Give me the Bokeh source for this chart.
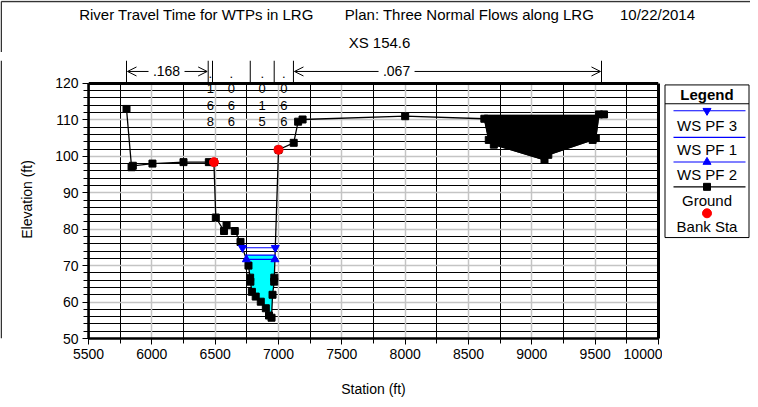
import numpy as np
from bokeh.plotting import figure
from bokeh.layouts import column, row
from bokeh.models import FixedTicker, Grid, Arrow, OpenHead, Range1d, LinearAxis
from bokeh.core.properties import value
from bokeh.embed import file_html
from bokeh.resources import INLINE

# ---------------- data ----------------
title_left = "River Travel Time for WTPs in LRG"
title_mid = "Plan: Three Normal Flows along LRG"
title_date = "10/22/2014"
subtitle = "XS 154.6"

ground_sta = [5800, 5840, 5850, 6005, 6250, 6450, 6490, 6505, 6570, 6590, 6655, 6700,
              6763, 6776, 6778, 6790, 6820, 6860, 6900, 6925, 6945, 6953, 6966, 6967,
              7000, 7120, 7155, 7190, 8000, 8625, 8660, 8700, 9100, 9130, 9480, 9505, 9530, 9570]
ground_elev = [113.0, 97.0, 97.4, 98.0, 98.4, 98.4, 98.4, 83.2, 79.5, 81.1, 79.5, 76.5,
               70.0, 66.7, 65.6, 62.8, 61.5, 60.1, 58.3, 56.3, 55.7, 62.0, 65.6, 66.7,
               101.8, 103.7, 109.5, 110.1, 111.0, 110.3, 104.5, 103.2, 99.0, 100.4, 104.5, 105.0, 111.5, 111.5]

bank_sta = [6490, 7000]
bank_elev = [98.4, 101.8]

ws_names = ["WS PF 3", "WS PF 1", "WS PF 2"]
ws_elev = [74.9, 72.9, 71.7]

block_sta = [8625, 9522]
block_elev = 111.3

n_breaks = [5800, 6445, 6479, 6777, 6966, 7118, 9550]
n_values = [".168", ".168", ".066", ".015", ".066", ".067"]
n_wide_label_sta = {0: 6116, 5: 7932}

x_ticks = list(range(5500, 10001, 500))
y_ticks = list(range(50, 121, 10))

# ---------------- geometry helpers (page px -> data) ----------------
X0, X1, Y0, Y1 = 5500, 10000, 50, 120
L, R, T, B = 96, 666, 91, 347   # plot-box edges on page (px)
NTOP = 68                       # page y where the Manning's n markers start (top of frame)
SPLIT = 60                      # page y where header ends and plot row begins


def dx(px):
    return X0 + (px - L) * (X1 - X0) / (R - L)


def dy(py):
    return Y1 - (py - T) * (Y1 - Y0) / (B - T)


FONT = "Liberation Sans"
TF = value(FONT)
FRAME_COL = "#333333"
ROW_H = 407 - SPLIT


def ttext(fig, xs, ys, texts, size=14, style="normal", align="center", color="black", baseline="middle"):
    fig.text(xs, ys, text=texts, text_align=align, text_baseline=baseline, text_font=TF,
             text_font_size=f"{size}px", text_font_style=style, text_color=color)


# ---------------- main plot ----------------
p = figure(width=660, height=ROW_H, x_range=(X0, X1), y_range=(Y0, dy(NTOP)),
           output_backend="svg", toolbar_location=None,
           min_border_left=86, min_border_right=4, min_border_top=NTOP - SPLIT, min_border_bottom=60)
p.outline_line_color = None
p.background_fill_color = "white"
p.border_fill_color = "white"

p.xaxis.ticker = FixedTicker(ticks=x_ticks, minor_ticks=list(range(5500, 10001, 250)))
p.yaxis.ticker = FixedTicker(ticks=y_ticks, minor_ticks=list(range(50, 121, 2)))
p.yaxis.bounds = (Y0, Y1)
for ax in (p.xaxis[0], p.yaxis[0]):
    ax.axis_line_width = 2.5
    ax.major_tick_out = 6
    ax.major_tick_in = 0
    ax.minor_tick_out = 5
    ax.minor_tick_in = 0
    ax.major_label_text_font = FONT
    ax.major_label_text_font_size = "14px"
    ax.major_label_text_color = "black"
    ax.axis_label_text_font = FONT
    ax.axis_label_text_font_size = "14px"
    ax.axis_label_text_font_style = "normal"
    ax.axis_label_text_color = "black"
    ax.major_tick_line_color = "black"
    ax.minor_tick_line_color = "black"
p.xaxis.axis_label = "Station (ft)"
p.yaxis.axis_label = "Elevation (ft)"
p.xaxis.major_label_standoff = 4
p.yaxis.major_label_standoff = 4
p.xaxis.axis_label_standoff = 19
p.yaxis.axis_label_standoff = 17

# right edge of the plot box: an unticked axis
p.add_layout(LinearAxis(ticker=FixedTicker(ticks=[]), bounds=(Y0, Y1), axis_line_width=3,
                        major_tick_line_color=None, minor_tick_line_color=None), "right")

# grids
has_cb = "cross_bounds" in Grid.properties()
p.xgrid.ticker = FixedTicker(ticks=list(range(5750, 10000, 500)))
p.xgrid.grid_line_color = "black"
p.xgrid.grid_line_width = 1
p.ygrid.ticker = FixedTicker(ticks=[v for v in range(52, 120, 2) if v % 10])
p.ygrid.grid_line_color = "black"
p.ygrid.grid_line_width = 1
g2 = Grid(dimension=0, ticker=FixedTicker(ticks=list(range(6000, 10000, 500))),
          grid_line_color="#c4c4c4", grid_line_width=1.5)
p.add_layout(g2)
p.add_layout(Grid(dimension=1, ticker=FixedTicker(ticks=list(range(60, 120, 10))),
                  grid_line_color="#c4c4c4", grid_line_width=1.5))
if has_cb:
    p.xgrid.cross_bounds = (Y0, Y1)
    g2.cross_bounds = (Y0, Y1)
else:
    # mask the vertical grid above the plot box
    p.quad(left=[X0], right=[X1], bottom=[Y1], top=[dy(NTOP)], fill_color="white", line_color=None)

gs = np.array(ground_sta, dtype=float)
ge = np.array(ground_elev, dtype=float)

# blocked obstruction
bx = np.linspace(block_sta[0], block_sta[1], 200)
bx = np.unique(np.concatenate([bx, gs[(gs > block_sta[0]) & (gs < block_sta[1])]]))
by = np.interp(bx, gs, ge)
p.patch(list(bx) + list(bx[::-1]), list(np.minimum(by, block_elev)) + [block_elev] * len(bx),
        fill_color="black", line_color="black")


def crossings(ws):
    i_lo = ground_sta.index(bank_sta[0])
    i_hi = ground_sta.index(bank_sta[1])
    xs, ys = gs[i_lo:i_hi + 1], ge[i_lo:i_hi + 1]
    below = np.where(ys < ws)[0]
    a, b = below[0], below[-1]
    xl = xs[a - 1] + (ys[a - 1] - ws) / (ys[a - 1] - ys[a]) * (xs[a] - xs[a - 1])
    xr = xs[b] + (ws - ys[b]) / (ys[b + 1] - ys[b]) * (xs[b + 1] - xs[b])
    return xl, xr, xs[a:b + 1], ys[a:b + 1]


xl, xr, wx, wy = crossings(ws_elev[1])
p.patch([xl] + list(wx) + [xr], [ws_elev[1]] + list(wy) + [ws_elev[1]],
        fill_color="#00ffff", line_color=None)

p.line(ground_sta, ground_elev, line_color="black", line_width=1.3)
p.scatter(ground_sta, ground_elev, marker="square", size=7, color="black")

ws_markers = ["inverted_triangle", None, "triangle"]
for ws, mk in zip(ws_elev, ws_markers):
    a, b, _, _ = crossings(ws)
    p.line([a, b], [ws, ws], line_color="blue", line_width=1.2)
    if mk:
        p.scatter([a, b], [ws, ws], marker=mk, size=8, color="blue")

p.scatter(bank_sta, bank_elev, marker="circle", size=9, color="red")

# plot box top and left edges
p.line([X0, X1], [Y1, Y1], line_color="black", line_width=3)
p.line([X0, X0], [Y0, Y1], line_color="black", line_width=2)

# Manning's n: break lines, labels with arrows, vertical digits
p.segment(n_breaks, [Y1] * len(n_breaks), n_breaks, [dy(NTOP)] * len(n_breaks),
          line_color="black", line_width=1)
arrow_y = dy(79)
half = dx(18) - dx(0)
for i, nv in enumerate(n_values):
    a, b = n_breaks[i], n_breaks[i + 1]
    if i in n_wide_label_sta:
        c = n_wide_label_sta[i]
        ttext(p, [c], [arrow_y], [nv], size=14)
        p.add_layout(Arrow(x_start=c - half, y_start=arrow_y, x_end=a + 8, y_end=arrow_y, start=None,
                           end=OpenHead(size=9, line_width=1), line_width=1))
        p.add_layout(Arrow(x_start=c + half, y_start=arrow_y, x_end=b - 8, y_end=arrow_y, start=None,
                           end=OpenHead(size=9, line_width=1), line_width=1))
    else:
        c = (a + b) / 2
        digits = nv.replace(".", "")
        ttext(p, [c], [dy(86)], ["."], size=13, baseline="bottom")
        ttext(p, [c] * len(digits), [dy(96.5 + 16.5 * k) for k in range(len(digits))], list(digits), size=13)

# ---------------- header figure (titles) ----------------
top = figure(width=750, height=SPLIT - 8, x_range=Range1d(dx(8), dx(758)), y_range=Range1d(SPLIT, 8),
             x_axis_location=None, y_axis_location=None, min_border=0,
             output_backend="svg", toolbar_location=None)
top.outline_line_color = None
top.grid.visible = False

ttext(top, [dx(204), dx(477), dx(665)], [22, 22, 22], [title_left, title_mid, title_date], size=15)
ttext(top, [dx(387)], [50], [subtitle], size=15)
top.segment([dx(8.75), dx(8.75)], [9, 9], [dx(758), dx(8.75)], [9, SPLIT], line_color=FRAME_COL, line_width=1.5)

# ---------------- left frame strip ----------------
strip = figure(width=2, height=ROW_H, x_range=Range1d(8, 10), y_range=Range1d(407, SPLIT),
               x_axis_location=None, y_axis_location=None, min_border=0,
               output_backend="svg", toolbar_location=None)
strip.outline_line_color = None
strip.grid.visible = False
strip.segment([8.75], [SPLIT], [8.75], [407], line_color=FRAME_COL, line_width=1.5)

# ---------------- legend figure ----------------
leg = figure(width=88, height=ROW_H, x_range=Range1d(670, 758), y_range=Range1d(407, SPLIT),
             x_axis_location=None, y_axis_location=None, min_border=0,
             output_backend="svg", toolbar_location=None)
leg.outline_line_color = None
leg.grid.visible = False
lx0, lx1, ly0, ly1 = 672.5, 756.5, 90.5, 281
leg.segment([lx0, lx0, lx0, lx1, lx0], [ly0, ly1, ly0, ly0, 114],
            [lx1, lx1, lx0, lx1, lx1], [ly0, ly1, ly1, ly1, 114], line_color="black", line_width=1)
lc = (lx0 + lx1) / 2
ttext(leg, [lc], [102], ["Legend"], size=15, style="bold")
leg_rows = [(122.7, "blue", "inverted_triangle", ws_names[0], 141),
            (156.0, "blue", None, ws_names[1], 171),
            (186.7, "blue", "triangle", ws_names[2], 202),
            (217.7, "black", "square", "Ground", 235)]
for ly, col, mk, name, ty in leg_rows:
    leg.line([681, 753], [ly, ly], line_color=col, line_width=1.2)
    if mk:
        leg.scatter([lc], [ly], marker=mk, size=8 if mk != "square" else 7, color=col)
    ttext(leg, [lc], [ty], [name], size=15)
leg.scatter([lc], [250.7], marker="circle", size=9, color="red")
ttext(leg, [lc], [267], ["Bank Sta"], size=15)

layout = column(top, row(strip, p, leg))
open("out.html", "w").write(file_html(layout, INLINE))
